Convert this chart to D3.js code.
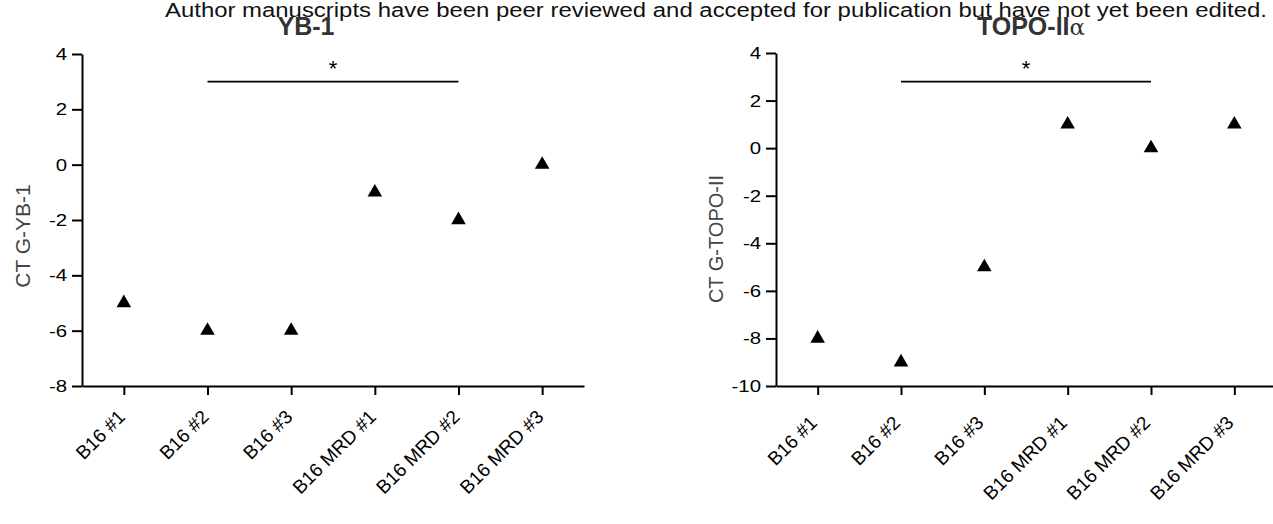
<!DOCTYPE html>
<html>
<head>
<meta charset="utf-8">
<script src="https://cdn.jsdelivr.net/npm/d3@7"></script>
<style>
  body{margin:0;background:#fff;}
  svg text{font-family:"Liberation Sans",Arial,sans-serif;}
</style>
</head>
<body>
<div id="chart"></div>
<script>
var samples=["B16 #1","B16 #2","B16 #3","B16 MRD #1","B16 MRD #2","B16 MRD #3"];
var yb1Values=[-5,-6,-6,-1,-2,0];
var topoValues=[-8,-9,-5,1,0,1];
var yb1Ticks=[4,2,0,-2,-4,-6,-8];
var topoTicks=[4,2,0,-2,-4,-6,-8,-10];
var noteText="Author manuscripts have been peer reviewed and accepted for publication but have not yet been edited.";

var width=1273,height=524;
var svg=d3.select("#chart").append("svg").attr("width",width).attr("height",height);

// header note from the manuscript page
svg.append("text").attr("x",165).attr("y",17)
	.attr("textLength",1102).attr("lengthAdjust","spacingAndGlyphs")
	.style("font-size","20px").attr("fill","#111").text(noteText);

function drawPanel(opt){
	var g=svg.append("g");
	var x=d3.scalePoint().domain(samples).range([opt.left,opt.right]).padding(0.5);
	var y=d3.scaleLinear().domain([opt.ymin,opt.ymax]).range([opt.bottom,opt.top]);
	var sx=1.2; // the original figure is stretched sideways

	var yAxis=g.append("g").attr("transform","translate("+opt.left+",0)")
		.call(d3.axisLeft(y).tickValues(opt.ticks).tickSize(10).tickSizeOuter(0));
	yAxis.select(".domain").attr("stroke-width",2);
	yAxis.selectAll(".tick line").attr("stroke-width",2);
	yAxis.selectAll(".tick text").style("font-size","17px").attr("fill","#000")
		.attr("x",-15/sx).attr("transform","scale("+sx+",1)")
		.text(function(d){return d<0?"-"+Math.abs(d):d;});

	var xAxis=g.append("g").attr("transform","translate(0,"+opt.bottom+")")
		.call(d3.axisBottom(x).tickSize(9).tickSizeOuter(0));
	xAxis.select(".domain").attr("stroke-width",2);
	xAxis.selectAll(".tick line").attr("stroke-width",2);
	xAxis.selectAll(".tick text").style("font-size",opt.labSize+"px").attr("fill","#000")
		.attr("text-anchor","end").attr("dy",0).attr("x",0).attr("y",0)
		.attr("transform","translate("+opt.labDx+","+opt.labDy+") rotate(-45)");

	// y axis title
	g.append("text").attr("transform","translate("+opt.ylabX+","+opt.ylabY+") rotate(-90)")
		.attr("text-anchor","middle").style("font-size",opt.ylabSize+"px").attr("fill","#444").text(opt.ylabel);

	// panel title
	var t=g.append("text").attr("x",opt.titleX).attr("y",35).attr("text-anchor","middle")
		.style("font-size","25px").attr("font-weight","bold").attr("fill","#333");
	t.append("tspan").text(opt.title);
	if(opt.titleSuffix){t.append("tspan").attr("font-weight","normal").style("font-family","DejaVu Serif").style("font-size","23px").text(opt.titleSuffix);}

	// data points
	g.selectAll("path.pt").data(opt.values).enter().append("path").attr("class","pt")
		.attr("d",d3.symbol().type(d3.symbolTriangle).size(92))
		.attr("fill","#000")
		.attr("transform",function(d,i){return "translate("+x(samples[i])+","+y(d)+")";});

	// significance bracket
	var bx1=x(samples[1]),bx2=x(samples[4]),by=y(opt.sigY);
	g.append("line").attr("x1",bx1).attr("x2",bx2).attr("y1",by).attr("y2",by)
		.attr("stroke","#000").attr("stroke-width",1.7);
	g.append("text").attr("x",(bx1+bx2)/2).attr("y",by-6).attr("text-anchor","middle")
		.style("font-size","22px").attr("fill","#000").text("*");
}

drawPanel({left:82,right:584,top:54,bottom:386,ymin:-8,ymax:4,ticks:yb1Ticks,values:yb1Values,
	title:"YB-1",titleX:306,ylabel:"CT G-YB-1",ylabX:30,ylabY:236,ylabSize:21,sigY:3,labDx:2,labDy:32,labSize:19});
drawPanel({left:776,right:1276,top:53,bottom:386,ymin:-10,ymax:4,ticks:topoTicks,values:topoValues,
	title:"TOPO-II",titleSuffix:"\u03b1",titleX:1031,ylabel:"CT G-TOPO-II",ylabX:723,ylabY:239,ylabSize:20,sigY:2.8,labDx:0,labDy:38,labSize:19});
</script>
</body>
</html>
